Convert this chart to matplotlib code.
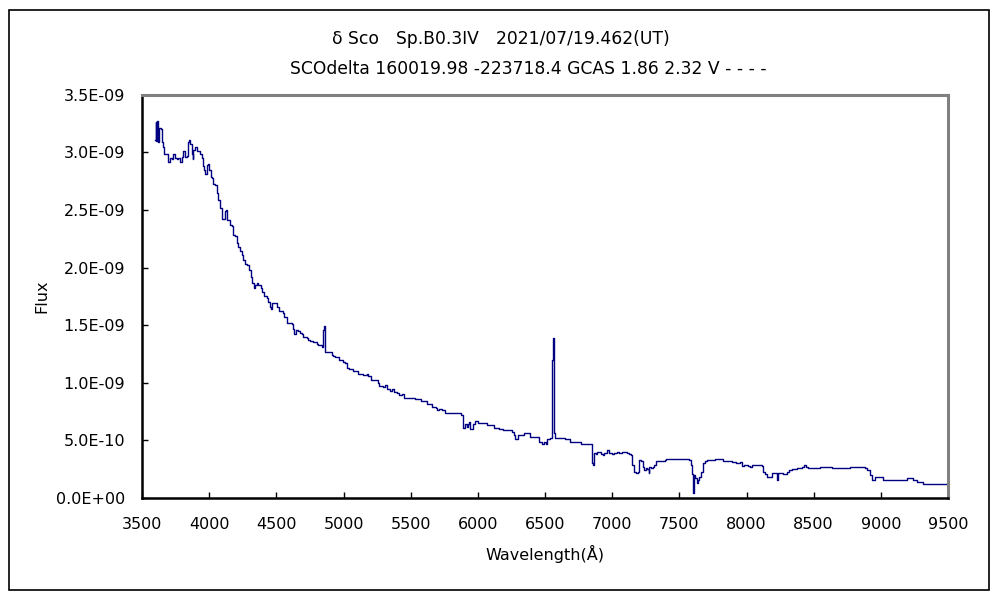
import matplotlib
matplotlib.use("Agg")
import matplotlib.pyplot as plt
from matplotlib.patches import Rectangle
from matplotlib.ticker import FixedLocator

plt.rcParams['font.family'] = ['DejaVu Sans', 'Noto Sans CJK JP']

# spectrum (wavelength in A, flux in 1e-9)
wave = [3597, 3602, 3607, 3614, 3621, 3629, 3641, 3646, 3654, 3664, 3684, 3696,
        3708, 3721, 3733, 3746, 3758, 3770, 3783, 3795, 3808, 3820, 3832, 3840,
        3847, 3857, 3870, 3877, 3882, 3894, 3907, 3919, 3932, 3944, 3951, 3961,
        3969, 3981, 3994, 4001, 4011, 4019, 4031, 4043, 4056, 4068, 4081, 4093,
        4105, 4118, 4125, 4130, 4143, 4155, 4167, 4180, 4192, 4205, 4217, 4229,
        4242, 4254, 4267, 4284, 4299, 4309, 4321, 4334, 4341, 4354, 4366, 4383,
        4396, 4408, 4428, 4440, 4453, 4460, 4470, 4490, 4502, 4522, 4547, 4557,
        4577, 4589, 4614, 4626, 4634, 4644, 4664, 4676, 4688, 4701, 4726, 4738,
        4750, 4775, 4800, 4813, 4837, 4850, 4857, 4865, 4887, 4912, 4924, 4937,
        4969, 4994, 5011, 5024, 5029, 5041, 5073, 5110, 5148, 5172, 5185, 5202,
        5254, 5267, 5292, 5309, 5326, 5346, 5359, 5376, 5396, 5416, 5433, 5450,
        5520, 5532, 5545, 5574, 5624, 5656, 5688, 5698, 5713, 5731, 5755, 5855,
        5872, 5887, 5892, 5907, 5917, 5927, 5937, 5942, 5961, 5981, 6004, 6021,
        6066, 6123, 6160, 6190, 6252, 6272, 6279, 6301, 6344, 6388, 6450, 6458,
        6475, 6492, 6507, 6517, 6537, 6549, 6554, 6562, 6567, 6574, 6649, 6686,
        6765, 6852, 6860, 6865, 6880, 6890, 6904, 6914, 6929, 6942, 6959, 6979,
        6996, 7014, 7033, 7053, 7071, 7090, 7108, 7128, 7140, 7148, 7162, 7177,
        7192, 7202, 7214, 7227, 7237, 7249, 7262, 7272, 7277, 7286, 7301, 7314,
        7324, 7343, 7393, 7401, 7468, 7510, 7574, 7587, 7594, 7601, 7609, 7616,
        7629, 7639, 7649, 7659, 7674, 7691, 7703, 7723, 7753, 7765, 7827, 7852,
        7889, 7902, 7922, 7951, 7964, 7981, 8013, 8026, 8038, 8113, 8120, 8138,
        8155, 8180, 8192, 8220, 8224, 8237, 8269, 8299, 8319, 8336, 8373, 8411,
        8428, 8443, 8460, 8497, 8547, 8621, 8634, 8770, 8882, 8899, 8919, 8937,
        8956, 8994, 9013, 9043, 9167, 9192, 9242, 9267, 9291, 9316, 9366, 9495,
        9500]
flux = [3.11, 3.26, 3.10, 3.27, 3.09, 3.21, 3.20, 3.09, 3.05, 2.99, 2.99, 2.92,
        2.95, 2.94, 2.99, 2.95, 2.94, 2.95, 2.92, 2.96, 3.01, 2.96, 2.97, 3.09,
        3.11, 3.07, 2.99, 2.94, 3.02, 3.05, 3.01, 3.01, 2.99, 2.95, 2.88, 2.85,
        2.81, 2.89, 2.90, 2.85, 2.79, 2.78, 2.73, 2.72, 2.65, 2.59, 2.52, 2.42,
        2.42, 2.49, 2.50, 2.41, 2.41, 2.37, 2.36, 2.28, 2.27, 2.21, 2.18, 2.14,
        2.11, 2.07, 2.03, 2.02, 1.98, 1.92, 1.87, 1.82, 1.85, 1.87, 1.85, 1.82,
        1.79, 1.75, 1.74, 1.70, 1.66, 1.64, 1.69, 1.69, 1.66, 1.62, 1.61, 1.57,
        1.52, 1.52, 1.51, 1.47, 1.42, 1.46, 1.45, 1.43, 1.42, 1.40, 1.39, 1.37,
        1.36, 1.35, 1.34, 1.33, 1.31, 1.46, 1.49, 1.27, 1.27, 1.24, 1.23, 1.22,
        1.20, 1.18, 1.17, 1.16, 1.13, 1.12, 1.10, 1.08, 1.07, 1.08, 1.06, 1.02,
        1.00, 0.97, 0.96, 0.98, 0.95, 0.93, 0.95, 0.92, 0.91, 0.89, 0.90, 0.87,
        0.87, 0.86, 0.86, 0.84, 0.82, 0.79, 0.78, 0.76, 0.77, 0.76, 0.74, 0.74,
        0.72, 0.70, 0.61, 0.64, 0.62, 0.64, 0.66, 0.60, 0.64, 0.67, 0.65, 0.65,
        0.63, 0.61, 0.60, 0.59, 0.57, 0.55, 0.51, 0.55, 0.56, 0.53, 0.53, 0.49,
        0.47, 0.49, 0.47, 0.51, 0.52, 1.03, 1.20, 1.39, 0.56, 0.52, 0.51, 0.49,
        0.47, 0.30, 0.29, 0.39, 0.38, 0.40, 0.40, 0.38, 0.37, 0.39, 0.42, 0.39,
        0.38, 0.39, 0.40, 0.39, 0.40, 0.40, 0.39, 0.38, 0.37, 0.29, 0.23, 0.22,
        0.23, 0.33, 0.32, 0.27, 0.24, 0.26, 0.25, 0.22, 0.27, 0.26, 0.27, 0.29,
        0.32, 0.32, 0.33, 0.34, 0.34, 0.34, 0.33, 0.29, 0.21, 0.04, 0.20, 0.17,
        0.13, 0.16, 0.18, 0.23, 0.30, 0.32, 0.33, 0.33, 0.33, 0.34, 0.32, 0.32,
        0.31, 0.31, 0.30, 0.31, 0.28, 0.29, 0.28, 0.27, 0.29, 0.28, 0.23, 0.21,
        0.18, 0.18, 0.22, 0.22, 0.16, 0.22, 0.21, 0.23, 0.24, 0.25, 0.26, 0.27,
        0.29, 0.27, 0.26, 0.26, 0.27, 0.27, 0.26, 0.27, 0.26, 0.24, 0.20, 0.16,
        0.18, 0.18, 0.16, 0.16, 0.16, 0.17, 0.16, 0.14, 0.14, 0.12, 0.12, 0.12,
        0.10]
flux = [f * 1e-9 for f in flux]

xticks = list(range(3500, 9501, 500))
yticks = [i * 0.5e-9 for i in range(8)]
ytick_labels = ["0.0E+00", "5.0E-10", "1.0E-09", "1.5E-09", "2.0E-09",
                "2.5E-09", "3.0E-09", "3.5E-09"]

title1 = "δ Sco\u3000Sp.B0.3IV\u30002021/07/19.462(UT)"
title2 = "SCOdelta 160019.98 -223718.4 GCAS 1.86 2.32 V - - - -"

fig = plt.figure(figsize=(10, 6), dpi=100)
fig.patches.append(Rectangle((0.009, 0.016), 0.98, 0.968, transform=fig.transFigure,
                             fill=False, edgecolor='black', linewidth=1.2))
ax = fig.add_axes([0.142, 0.17, 0.806, 0.672])

ax.plot(wave, flux, color='#000080', linewidth=1.0, drawstyle='steps-post')

ax.set_xlim(3500, 9500)
ax.set_ylim(0, 3.5e-9)
ax.xaxis.set_major_locator(FixedLocator(xticks))
ax.set_yticks(yticks)
ax.set_yticklabels(ytick_labels)
ax.tick_params(direction='in', length=4, width=1, labelsize=11.5,
               top=False, right=False)
ax.tick_params(axis='y', pad=12)
ax.tick_params(axis='x', pad=14)

for s in ['left', 'bottom']:
    ax.spines[s].set_color('black')
    ax.spines[s].set_linewidth(1.8)
for s in ['top', 'right']:
    ax.spines[s].set_color('#808080')
    ax.spines[s].set_linewidth(2.2)

ax.set_xlabel("Wavelength(Å)", fontsize=11.5, labelpad=9)
ax.set_ylabel("Flux", fontsize=11.5, labelpad=5)

fig.text(0.501, 0.935, title1, ha='center', va='center', fontsize=12.3)
fig.text(0.528, 0.885, title2, ha='center', va='center', fontsize=12.3)

fig.savefig("out.png", dpi=100)
